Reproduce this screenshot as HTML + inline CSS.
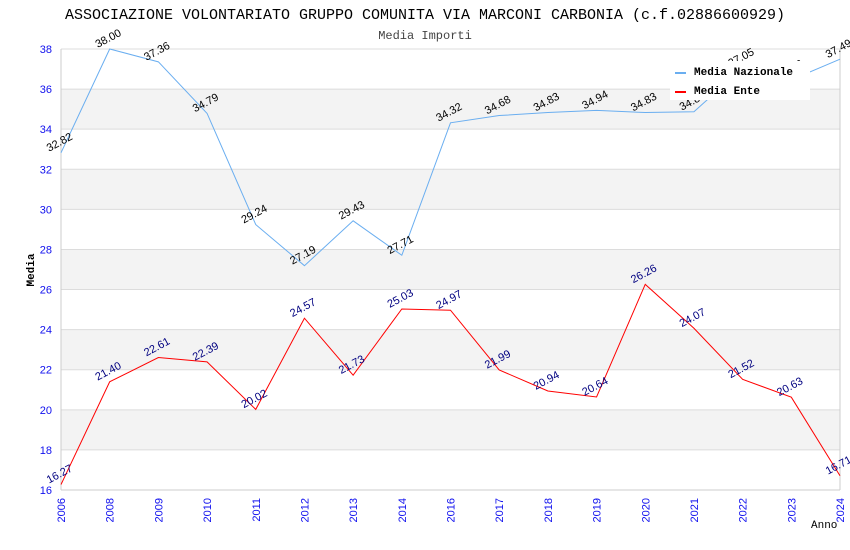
<!DOCTYPE html>
<html><head><meta charset="utf-8"><style>
body{margin:0;background:#fff;width:850px;height:550px;overflow:hidden}
svg{display:block}
</style></head><body>
<svg id="chart" width="850" height="550" xmlns="http://www.w3.org/2000/svg">
<text x="425" y="19" text-anchor="middle" font-family="Liberation Mono, monospace" font-size="15" fill="#000">ASSOCIAZIONE VOLONTARIATO GRUPPO COMUNITA VIA MARCONI CARBONIA (c.f.02886600929)</text>
<text x="425" y="39" text-anchor="middle" font-family="Liberation Mono, monospace" font-size="12" fill="#444">Media Importi</text>
<g id="bands"></g><g id="grid"></g><g id="axes"></g><g id="series"></g><g id="labels"></g>
<text x="34" y="270" transform="rotate(-90 34 270)" text-anchor="middle" font-family="Liberation Mono, monospace" font-size="11" font-weight="bold" fill="#000">Media</text>
<text x="811" y="528" font-family="Liberation Mono, monospace" font-size="11" fill="#000">Anno</text>
<g>
<rect x="670" y="61" width="140" height="39" fill="#fff"/>
<line x1="675" y1="73" x2="686" y2="73" stroke="#6aaef0" stroke-width="2"/>
<text x="694" y="75" font-family="Liberation Mono, monospace" font-size="11" font-weight="bold">Media Nazionale</text>
<line x1="675" y1="92" x2="686" y2="92" stroke="#f00" stroke-width="2"/>
<text x="694" y="94" font-family="Liberation Mono, monospace" font-size="11" font-weight="bold">Media Ente</text>
</g>
</svg>
<script>
const categories=["2006","2008","2009","2010","2011","2012","2013","2014","2016","2017","2018","2019","2020","2021","2022","2023","2024"];
const nazionale=[32.82,38.00,37.36,34.79,29.24,27.19,29.43,27.71,34.32,34.68,34.83,34.94,34.83,34.87,37.05,36.46,37.49];
const ente=[16.27,21.40,22.61,22.39,20.02,24.57,21.73,25.03,24.97,21.99,20.94,20.64,26.26,24.07,21.52,20.63,16.71];
const yTicks=[16,18,20,22,24,26,28,30,32,34,36,38];
const NS="http://www.w3.org/2000/svg";
const L=61,R=840,T=49,B=490,yMin=16,yMax=38;
const x=i=>L+(R-L)*i/(categories.length-1);
const y=v=>B-(v-yMin)/(yMax-yMin)*(B-T);
function mk(tag,attrs,parent){const e=document.createElementNS(NS,tag);for(const k in attrs)e.setAttribute(k,attrs[k]);document.getElementById(parent).appendChild(e);return e;}
for(let i=0;i<yTicks.length-1;i++){
  if(i%2==1){const b=mk('rect',{x:L,y:y(yTicks[i+1]),width:R-L,height:y(yTicks[i])-y(yTicks[i+1]),fill:'#f3f3f3'},'bands');
  
  }
}
yTicks.forEach(t=>{
  const g=mk('line',{x1:L,x2:R,y1:y(t),y2:y(t),stroke:'#dcdcdc'},'grid');
  
  
  const tx=mk('text',{x:L-9,y:y(t)+4,'text-anchor':'end','font-family':'Liberation Sans, sans-serif','font-size':'11',fill:'#1010ee'},'axes');
  tx.textContent=t;
  
  
});
mk('line',{x1:L,x2:L,y1:T,y2:B,stroke:'#ccc'},'axes');
mk('line',{x1:R,x2:R,y1:T,y2:B,stroke:'#ccc'},'axes');
mk('line',{x1:L,x2:R,y1:B,y2:B,stroke:'#ccc'},'axes');
categories.forEach((c,i)=>{
  const tx=mk('text',{x:x(i)+4,y:B+8,transform:`rotate(-90 ${x(i)+4} ${B+8})`,'text-anchor':'end','font-family':'Liberation Sans, sans-serif','font-size':'11',fill:'#1010ee'},'axes');
  tx.textContent=c;
  
  
});
function series(vals,color,lblColor,name){
  const p=mk('polyline',{points:vals.map((v,i)=>x(i)+','+y(v)).join(' '),fill:'none',stroke:color,'stroke-width':1},'series');
  
  
  vals.forEach((v,i)=>{
    const lx=x(i)-12,ly=y(v)-1;
    const t=mk('text',{x:lx,y:ly,transform:`rotate(-28 ${lx} ${ly})`,'font-family':'Liberation Sans, sans-serif','font-size':'11',fill:lblColor},'labels');
    t.textContent=v.toFixed(2);
    
    
  });
}
series(nazionale,'#6aaef0','#000','nazionale');
series(ente,'#f00','#000080','ente');
</script>
</body></html>
